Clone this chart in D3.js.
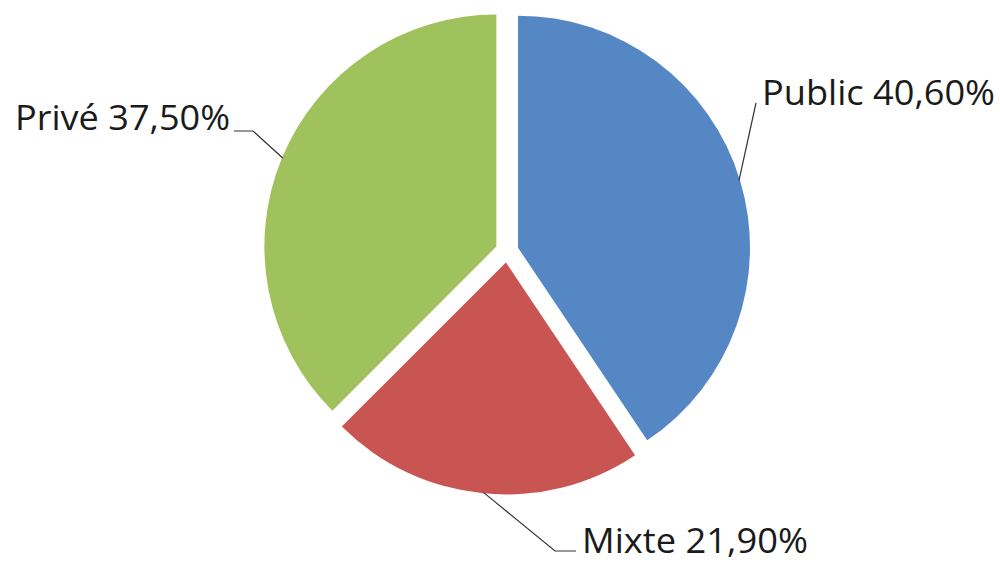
<!DOCTYPE html>
<html>
<head>
<meta charset="utf-8">
<script src="https://cdn.jsdelivr.net/npm/d3@7"></script>
<style>
  html, body { margin: 0; padding: 0; background: #ffffff; }
  svg { display: block; }
</style>
</head>
<body>
<svg id="chart" width="1000" height="563"></svg>
<script>
// ---- data ----
const categories = ["Public", "Mixte", "Privé"];
const values = [40.6, 21.9, 37.5];
const valueLabels = ["40,60%", "21,90%", "37,50%"];
const colors = ["#5587C5", "#C95552", "#A0C25D"];

// ---- layout (not data) ----
const cx = 507, cy = 251, radius = 232, explode = 11.5;
const labelLayout = [
  { x: 762, y: 105, width: 233, elbow: [756, 103], end: [756, 103] },
  { x: 582, y: 553, width: 226, elbow: [555, 551], end: [576, 551] },
  { x: 15,  y: 130, width: 215, elbow: [253, 131], end: [234, 131] }
];

const svg = d3.select("#chart");
const g = svg.append("g").attr("transform", `translate(${cx},${cy})`);

const pie = d3.pie().sort(null).value(d => d)(values);
const arc = d3.arc().innerRadius(0).outerRadius(radius);

function offset(d) {
  const a = (d.startAngle + d.endAngle) / 2;
  return [explode * Math.sin(a), -explode * Math.cos(a)];
}

g.selectAll("path.slice")
  .data(pie)
  .join("path")
  .attr("class", "slice")
  .attr("d", arc)
  .attr("fill", (d, i) => colors[i])
  .attr("transform", d => { const o = offset(d); return `translate(${o[0]},${o[1]})`; });

// leader lines
const lines = pie.map((d, i) => {
  const a = (d.startAngle + d.endAngle) / 2;
  const o = offset(d);
  const sx = cx + o[0] + (radius - 1) * Math.sin(a);
  const sy = cy + o[1] - (radius - 1) * Math.cos(a);
  const L = labelLayout[i];
  return [[sx, sy], L.elbow, L.end];
});

svg.selectAll("path.leader")
  .data(lines)
  .join("path")
  .attr("class", "leader")
  .attr("d", d3.line())
  .attr("fill", "none")
  .attr("stroke", "#333")
  .attr("stroke-width", 1.2);

// labels
svg.selectAll("text.lbl")
  .data(pie)
  .join("text")
  .attr("class", "lbl")
  .attr("x", (d, i) => labelLayout[i].x)
  .attr("y", (d, i) => labelLayout[i].y)
  .attr("font-family", "'Open Sans', 'Noto Sans', sans-serif")
  .attr("font-size", 35)
  .attr("fill", "#1a1a1a")
  .attr("textLength", (d, i) => labelLayout[i].width)
  .attr("lengthAdjust", "spacingAndGlyphs")
  .text((d, i) => categories[i] + " " + valueLabels[i]);
</script>
</body>
</html>
